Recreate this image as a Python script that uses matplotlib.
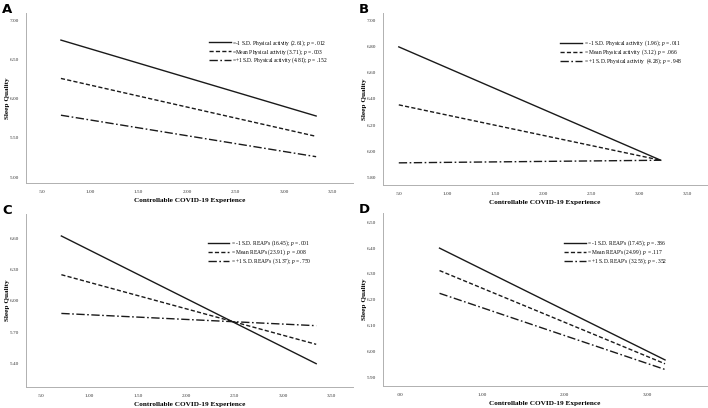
import matplotlib
matplotlib.use("Agg")
import matplotlib.pyplot as plt
from matplotlib.ticker import FuncFormatter

# ---------------- data ----------------
# Panel A: Physical activity moderator
a_x = [0.70, 3.33]
a_low = [6.75, 5.78]
a_mean = [6.26, 5.52]
a_high = [5.79, 5.26]
a_labels = ["=-1 S.D. Physical activity (2.61); $p$ = .012",
            "=Mean Physical activity (3.71); $p$ = .003",
            "=+1 S.D. Physical activity (4.81); $p$ = .152"]
a_yticks = [5.00, 5.50, 6.00, 6.50, 7.00]
a_xticks = [0.5, 1.0, 1.5, 2.0, 2.5, 3.0, 3.5]

# Panel B
b_x = [0.50, 3.22]
b_low = [6.80, 5.93]
b_mean = [6.355, 5.93]
b_high = [5.91, 5.93]
b_labels = ["= -1 S.D. Physical activity  (1.96); $p$ = .011",
            "= Mean Physical activity  (3.12); $p$ = .066",
            "= +1 S.D. Physical activity  (4.28); $p$ = .948"]
b_yticks = [5.80, 6.00, 6.20, 6.40, 6.60, 6.80, 7.00]
b_xticks = [0.5, 1.0, 1.5, 2.0, 2.5, 3.0, 3.5]

# Panel C: REAP's moderator
c_x = [0.71, 3.34]
c_low = [6.62, 5.40]
c_mean = [6.25, 5.585]
c_high = [5.88, 5.763]
c_labels = ["= -1 S.D. REAP's (16.45); $p$ = .001",
            "= Mean REAP's (23.91); $p$ = .008",
            "= +1 S.D. REAP's (31.37); $p$ = .750"]
c_yticks = [5.40, 5.70, 6.00, 6.30, 6.60]
c_xticks = [0.5, 1.0, 1.5, 2.0, 2.5, 3.0, 3.5]

# Panel D
d_x = [0.48, 3.22]
d_low = [6.40, 5.967]
d_mean = [6.313, 5.952]
d_high = [6.225, 5.930]
d_labels = ["= -1 S.D. REAP's (17.45); $p$ = .386",
            "= Mean REAP's (24.99); $p$ = .117",
            "= +1 S.D. REAP's (32.53); $p$ = .352"]
d_yticks = [5.90, 6.00, 6.10, 6.20, 6.30, 6.40, 6.50]
d_xticks = [0.0, 1.0, 2.0, 3.0]

panels = [
    ("A", a_x, a_low, a_mean, a_high, a_labels, a_xticks, a_yticks, (0.34, 3.71), (4.92, 7.10)),
    ("B", b_x, b_low, b_mean, b_high, b_labels, b_xticks, b_yticks, (0.336, 3.70), (5.74, 7.06)),
    ("C", c_x, c_low, c_mean, c_high, c_labels, c_xticks, c_yticks, (0.345, 3.72), (5.18, 6.83)),
    ("D", d_x, d_low, d_mean, d_high, d_labels, d_xticks, d_yticks, (-0.207, 3.73), (5.866, 6.536)),
]

# axes boxes in pixels (left, top, right, bottom)
boxes = [(26, 12.7, 353, 183.3), (383, 13, 707, 185),
         (26, 214, 353, 386.7), (383, 213, 707, 386)]
# legend anchors (right x in axes fraction, top y in axes fraction)
leg_anchor = [(0.93, 0.865), (0.93, 0.865), (0.88, 0.87), (0.885, 0.865)]
# y-label right edge in pixels
ylab_px = [9.5, 367, 9.5, 367]

W, H = 708, 408
fig = plt.figure(figsize=(W / 100, H / 100), dpi=100)
fig.patch.set_facecolor("white")

serif = ["Liberation Serif", "DejaVu Serif"]
plt.rcParams["mathtext.fontset"] = "custom"
plt.rcParams["mathtext.it"] = "Liberation Serif:italic"
plt.rcParams["mathtext.rm"] = "Liberation Serif"


def fmt(v, pos):
    s = f"{v:.2f}"
    if s.startswith("0"):
        s = s[1:]
    return s


for (letter, x, lo, me, hi, labels, xt, yt, xl, yl), (l, t, r, b), anc, ylp in zip(
        panels, boxes, leg_anchor, ylab_px):
    ax = fig.add_axes([l / W, 1 - b / H, (r - l) / W, (b - t) / H])
    ax.plot(x, lo, color="#1a1a1a", lw=1.0, ls="-", label=labels[0])
    ax.plot(x, me, color="#1a1a1a", lw=1.0, ls=(0, (3.0, 1.6)), label=labels[1])
    ax.plot(x, hi, color="#1a1a1a", lw=1.0, ls=(0, (6.0, 1.8, 1.2, 1.8)), label=labels[2])
    ax.set_xlim(*xl)
    ax.set_ylim(*yl)
    ax.set_xticks(xt)
    ax.set_yticks(yt)
    ax.xaxis.set_major_formatter(FuncFormatter(fmt))
    ax.yaxis.set_major_formatter(FuncFormatter(fmt))
    ax.tick_params(length=0, labelsize=3.8, colors="#333333", pad=5)
    for lab in ax.get_xticklabels() + ax.get_yticklabels():
        lab.set_family(serif)
    for s in ["top", "right"]:
        ax.spines[s].set_visible(False)
    for s in ["left", "bottom"]:
        ax.spines[s].set_color("#b0b0b0")
        ax.spines[s].set_linewidth(0.7)
    hpx = b - t
    wpx = r - l
    ax.set_xlabel("Controllable COVID-19 Experience", family=serif, fontweight="bold",
                  fontsize=5.2)
    ax.xaxis.set_label_coords(0.5, -15 / hpx)
    ax.set_ylabel("Sleep Quality", family=serif, fontweight="bold", fontsize=5.2)
    ax.yaxis.set_label_coords((ylp - l) / wpx, 0.5)
    leg = ax.legend(loc="upper right", bbox_to_anchor=anc, frameon=False,
                    prop={"family": serif, "size": 4.0}, handlelength=3.9,
                    handletextpad=0.3, labelspacing=-0.15, borderaxespad=0)
    for h in leg.get_lines():
        h.set_linewidth(1.0)
    fig.text((l - 24) / W, 1 - (t - 10) / H, letter, fontsize=9.5, fontweight="bold",
             family="DejaVu Sans", va="top", ha="left")

fig.savefig("out.png", dpi=100, facecolor="white")
